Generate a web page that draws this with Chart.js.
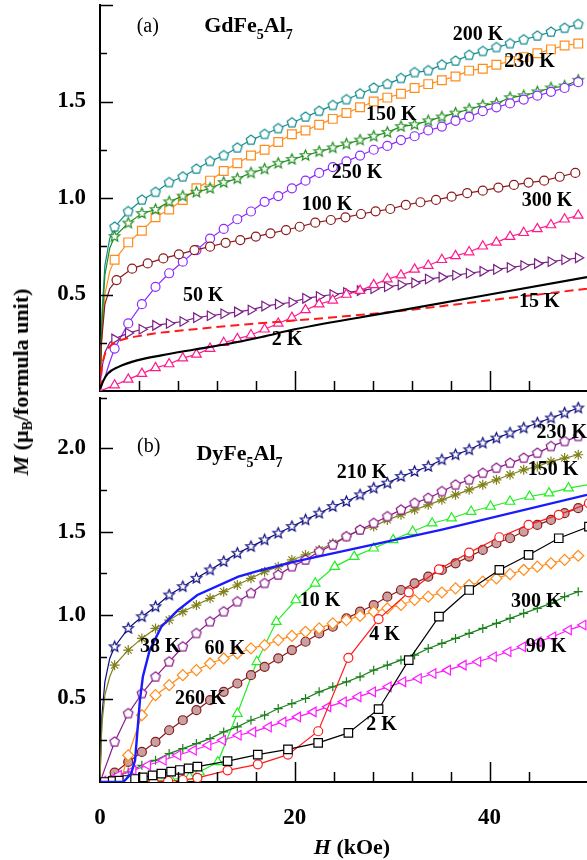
<!DOCTYPE html>
<html>
<head>
<meta charset="utf-8">
<script src="https://cdn.jsdelivr.net/npm/chart.js@4/dist/chart.umd.min.js"></script>
<style>
  body { margin: 0; background: #fff; width: 587px; height: 860px; position: relative; overflow: hidden;
         font-family: 'Liberation Serif', 'Times New Roman', serif; }
  #top { position: absolute; left: 0; top: 0; }
  #bot { position: absolute; left: 0; top: 390px; }
  .title { position: absolute; font-weight: bold; font-size: 22px; white-space: nowrap; color: #000; }
  #ytitle { left: 22px; top: 382px; transform: translate(-50%, -50%) rotate(-90deg); }
  #xtitle { left: 352px; top: 847px; transform: translate(-50%, -50%); }
  sub { font-size: 14px; vertical-align: -4px; }
</style>
</head>
<body>
<canvas id="top" width="587" height="392"></canvas>
<canvas id="bot" width="587" height="470"></canvas>
<div class="title" id="ytitle"><i>M</i> (&mu;<sub>B</sub>/formula unit)</div>
<div class="title" id="xtitle"><i>H</i> (kOe)</div>
<script>
'use strict';
/* global Chart */

// field grid (kOe) where most curves carry a marker, plus the unmarked low-field points
const hGrid = [1.5, 2.9, 4.3, 5.7, 7.1, 8.5, 9.9, 11.3, 12.7, 14.1, 15.5, 16.9, 18.3, 19.7, 21.1,
  22.5, 23.9, 25.3, 26.7, 28.1, 29.5, 30.9, 32.3, 33.7, 35.1, 36.5, 37.9, 39.3, 40.7, 42.1,
  43.5, 44.9, 46.3, 47.7, 49.1];
const hLead = [0, 0.2, 0.5, 1.0];

// ---- (a) GdFe5Al7 ----
const gd200Lead = [0.03, 0.40, 0.65, 0.79];
const gd200 = [0.85, 0.93, 0.99, 1.03, 1.08, 1.11, 1.15, 1.19, 1.22, 1.26, 1.30, 1.33, 1.36, 1.39,
  1.42, 1.45, 1.48, 1.51, 1.54, 1.57, 1.59, 1.62, 1.65, 1.66, 1.69, 1.71, 1.74, 1.76, 1.78, 1.80,
  1.82, 1.84, 1.86, 1.88, 1.90];
const gd230Lead = [0.03, 0.30, 0.50, 0.62];
const gd230 = [0.68, 0.77, 0.83, 0.90, 0.94, 0.99, 1.05, 1.09, 1.14, 1.18, 1.22, 1.25, 1.29, 1.33,
  1.35, 1.38, 1.41, 1.44, 1.47, 1.50, 1.52, 1.54, 1.57, 1.59, 1.61, 1.63, 1.66, 1.67, 1.69, 1.71,
  1.73, 1.75, 1.77, 1.79, 1.80];
const gd150Lead = [0.03, 0.35, 0.60, 0.74];
const gd150 = [0.80, 0.87, 0.92, 0.94, 0.98, 1.01, 1.03, 1.05, 1.08, 1.10, 1.13, 1.15, 1.18, 1.20,
  1.22, 1.24, 1.26, 1.28, 1.30, 1.32, 1.34, 1.37, 1.38, 1.40, 1.42, 1.44, 1.46, 1.48, 1.49, 1.52,
  1.53, 1.55, 1.57, 1.58, 1.61];
const gd250Lead = [0.0, 0.03, 0.07, 0.15];
const gd250 = [0.22, 0.35, 0.45, 0.54, 0.61, 0.67, 0.73, 0.79, 0.84, 0.89, 0.93, 0.98, 1.01, 1.05,
  1.09, 1.13, 1.16, 1.19, 1.22, 1.25, 1.27, 1.30, 1.32, 1.35, 1.37, 1.40, 1.42, 1.45, 1.47, 1.49,
  1.51, 1.53, 1.55, 1.57, 1.60];
const gd50Lead = [0.03, 0.12, 0.20, 0.25];
const gd50 = [0.27, 0.30, 0.32, 0.34, 0.35, 0.36, 0.38, 0.39, 0.40, 0.41, 0.42, 0.44, 0.45, 0.46,
  0.48, 0.49, 0.50, 0.51, 0.52, 0.53, 0.54, 0.55, 0.56, 0.58, 0.59, 0.60, 0.61, 0.62, 0.63, 0.64,
  0.65, 0.66, 0.67, 0.68, 0.69];
const gd300Lead = [0.0, 0.005, 0.01, 0.02];
const gd300 = [0.03, 0.06, 0.09, 0.12, 0.14, 0.17, 0.19, 0.22, 0.25, 0.27, 0.29, 0.32, 0.35, 0.38,
  0.42, 0.45, 0.47, 0.50, 0.52, 0.55, 0.58, 0.60, 0.63, 0.65, 0.68, 0.70, 0.72, 0.75, 0.77, 0.80,
  0.82, 0.84, 0.86, 0.89, 0.91];
const gd100H = [0, 0.15, 0.5, 1.0, 1.7, 3.3, 4.9, 6.5, 8.1, 9.7, 11.3, 12.9, 14.4, 16.0, 17.5, 19.1,
  20.5, 22.1, 23.7, 25.2, 26.8, 28.3, 29.8, 31.4, 32.9, 34.5, 36.1, 37.7, 39.3, 40.9, 42.5, 44.0,
  45.6, 47.2, 48.8];
const gd100 = [0.02, 0.25, 0.45, 0.53, 0.575, 0.634, 0.661, 0.687, 0.708, 0.73, 0.748, 0.768, 0.782,
  0.80, 0.817, 0.834, 0.851, 0.872, 0.886, 0.90, 0.917, 0.931, 0.943, 0.964, 0.978, 0.99, 1.007,
  1.025, 1.038, 1.054, 1.068, 1.08, 1.09, 1.11, 1.13];
const gd2H = [0, 0.3, 0.8, 1.9, 3.9, 6.3, 9.7, 13.2, 16.6, 20, 30, 40, 50];
const gd2 = [0.01, 0.05, 0.09, 0.125, 0.16, 0.185, 0.215, 0.245, 0.28, 0.32, 0.41, 0.50, 0.59];
const gd15H = [0, 0.2, 0.5, 1, 1.5, 4.6, 9.7, 14.9, 20, 30, 40, 50];
const gd15 = [0.01, 0.12, 0.19, 0.23, 0.25, 0.29, 0.32, 0.345, 0.365, 0.41, 0.47, 0.53];

// ---- (b) DyFe5Al7 ----
const dy210Lead = [0.02, 0.40, 0.60, 0.74];
const dy210 = [0.81, 0.92, 0.99, 1.05, 1.12, 1.17, 1.22, 1.27, 1.32, 1.37, 1.41, 1.45, 1.49, 1.53,
  1.57, 1.61, 1.65, 1.68, 1.72, 1.76, 1.79, 1.83, 1.86, 1.89, 1.93, 1.96, 1.99, 2.03, 2.06, 2.09,
  2.12, 2.15, 2.18, 2.21, 2.24];
const dy150Lead = [0.02, 0.35, 0.52, 0.63];
const dy150 = [0.70, 0.79, 0.86, 0.92, 0.97, 1.02, 1.06, 1.10, 1.14, 1.18, 1.22, 1.26, 1.29, 1.33,
  1.36, 1.39, 1.43, 1.47, 1.51, 1.53, 1.57, 1.60, 1.63, 1.66, 1.69, 1.72, 1.75, 1.78, 1.81, 1.84,
  1.87, 1.89, 1.92, 1.94, 1.96];
const dy230Lead = [0.0, 0.03, 0.08, 0.16];
const dy230 = [0.24, 0.41, 0.53, 0.63, 0.72, 0.81, 0.89, 0.96, 1.02, 1.08, 1.13, 1.19, 1.24, 1.29,
  1.33, 1.38, 1.42, 1.47, 1.51, 1.55, 1.59, 1.63, 1.67, 1.70, 1.74, 1.78, 1.81, 1.85, 1.88, 1.91,
  1.94, 1.97, 2.01, 2.04, 2.07];
const dy260Lead = [0.0, 0.005, 0.015, 0.035];
const dy260 = [0.056, 0.12, 0.18, 0.24, 0.31, 0.37, 0.43, 0.49, 0.54, 0.59, 0.64, 0.69, 0.74, 0.79,
  0.84, 0.89, 0.93, 0.98, 1.02, 1.06, 1.11, 1.15, 1.19, 1.23, 1.27, 1.31, 1.35, 1.39, 1.43, 1.46,
  1.50, 1.54, 1.57, 1.61, 1.64];
const dy300Lead = [0.0, 0.005, 0.012, 0.02];
const dy300 = [0.03, 0.06, 0.10, 0.13, 0.17, 0.20, 0.23, 0.26, 0.30, 0.33, 0.37, 0.40, 0.44, 0.47,
  0.50, 0.54, 0.57, 0.60, 0.63, 0.67, 0.70, 0.73, 0.76, 0.80, 0.83, 0.86, 0.89, 0.92, 0.95, 0.98,
  1.01, 1.04, 1.07, 1.11, 1.14];
const dy60H = [0, 2.2].concat(hGrid.slice(1));
const dy60 = [0, 0.02, 0.16, 0.40, 0.52, 0.58, 0.64, 0.67, 0.71, 0.74, 0.77, 0.80, 0.82, 0.85, 0.875,
  0.90, 0.92, 0.95, 0.97, 0.995, 1.02, 1.04, 1.06, 1.09, 1.11, 1.135, 1.16, 1.18, 1.20, 1.22, 1.245,
  1.27, 1.29, 1.31, 1.33, 1.355];
const dy90H = [0, 0.3, 1.9, 3.4, 4.9, 6.5, 8.0, 9.6, 11.1, 12.6, 14.2, 15.7, 17.3, 18.8, 20.3, 21.9,
  23.4, 25.0, 26.5, 28.0, 29.6, 31.1, 32.7, 34.2, 35.7, 37.3, 38.8, 40.4, 41.9, 43.4, 45.0, 46.5,
  48.1, 49.6];
const dy90 = [0, 0.005, 0.04, 0.07, 0.10, 0.13, 0.16, 0.19, 0.22, 0.25, 0.28, 0.30, 0.33, 0.36, 0.39,
  0.42, 0.45, 0.48, 0.51, 0.54, 0.57, 0.60, 0.62, 0.65, 0.67, 0.70, 0.72, 0.75, 0.78, 0.81, 0.84,
  0.87, 0.91, 0.94];
const dy2H = [0, 0.5, 1.3, 2.0, 2.8, 3.6, 4.4, 5.4, 6.3, 7.3, 8.2, 9.1, 10.0, 13.1, 16.2, 19.3, 22.4,
  25.5, 28.6, 31.7, 34.8, 37.9, 41.0, 44.0, 47.1, 50.2];
const dy2 = [0, 0, 0.005, 0.008, 0.012, 0.018, 0.028, 0.04, 0.05, 0.062, 0.072, 0.082, 0.092, 0.125,
  0.164, 0.195, 0.234, 0.294, 0.436, 0.73, 0.99, 1.15, 1.27, 1.36, 1.46, 1.53];
const dy4H = [0, 1.0, 2.5, 4.0, 5.5, 7.0, 8.5, 10.0, 13.1, 16.2, 19.3, 22.4, 25.5, 28.6, 31.7, 34.8,
  37.9, 41.0, 44.0, 47.1, 50.2];
const dy4 = [0, 0, 0, 0, 0.003, 0.006, 0.012, 0.025, 0.07, 0.106, 0.164, 0.304, 0.744, 0.976, 1.136,
  1.274, 1.374, 1.466, 1.54, 1.60, 1.67];
const dy10H = [0, 3.3, 5.3, 7.3, 9.2, 10.2, 12.1, 14.1, 16.1, 18.1, 20.1, 22.1, 24.1, 26.1, 28.1,
  30.1, 32.1, 34.1, 36.1, 38.1, 40.1, 42.1, 44.1, 46.1, 48.1, 50];
const dy10 = [0, 0, 0.005, 0.015, 0.03, 0.06, 0.12, 0.41, 0.72, 0.96, 1.09, 1.19, 1.29, 1.35, 1.40,
  1.45, 1.50, 1.55, 1.58, 1.62, 1.65, 1.68, 1.71, 1.73, 1.76, 1.78];
const dy38H = [0, 2.4, 3.2, 3.6, 4.1, 4.4, 5.1, 6.3, 8, 10, 14.2, 16.6, 20, 35, 50];
const dy38 = [0, 0, 0.05, 0.13, 0.49, 0.63, 0.79, 0.93, 1.03, 1.12, 1.23, 1.27, 1.32, 1.51, 1.72];

// curve labels: text, H, M
const notesTop = [['200 K', 38.8, 1.845], ['230 K', 44.1, 1.705], ['150 K', 29.9, 1.43],
  ['250 K', 26.4, 1.13], ['100 K', 23.3, 0.964], ['300 K', 45.9, 0.984], ['50 K', 10.6, 0.492],
  ['15 K', 45.1, 0.461], ['2 K', 19.2, 0.264]];
const notesBot = [['210 K', 26.9, 1.85], ['230 K', 47.4, 2.09], ['150 K', 46.5, 1.87],
  ['10 K', 22.6, 1.084], ['4 K', 29.2, 0.88], ['300 K', 44.8, 1.078], ['90 K', 45.8, 0.81],
  ['2 K', 28.9, 0.34], ['38 K', 6.2, 0.81], ['60 K', 12.8, 0.80], ['260 K', 10.3, 0.50]];

const SERIF = "'Liberation Serif', 'Times New Roman', serif";

function pts(hs, ms, lead, tail) {
  const n = hs.length - (tail || 0);
  return hs.map((x, i) => ({ x, y: ms[i], mk: i >= lead && i < n }));
}

// open pentagon / five-point star drawn once as a sprite
function sprite(kind, color, r) {
  const c = document.createElement('canvas');
  const s = Math.ceil(r * 2 + 4);
  c.width = c.height = s;
  const g = c.getContext('2d');
  const n = kind === 'star' ? 10 : 5;
  g.beginPath();
  for (let i = 0; i < n; i++) {
    const rr = kind === 'star' && i % 2 ? r * 0.45 : r;
    const a = -Math.PI / 2 + i * 2 * Math.PI / n;
    g.lineTo(s / 2 + rr * Math.cos(a), s / 2 + rr * Math.sin(a));
  }
  g.closePath();
  g.fillStyle = '#fff';
  g.fill();
  g.strokeStyle = color;
  g.lineWidth = 1.2;
  g.stroke();
  return c;
}

function ds(data, color, style, r, extra) {
  return Object.assign({
    data,
    borderColor: color,
    borderWidth: 1.2,
    pointStyle: style,
    pointBorderColor: color,
    pointBackgroundColor: '#fff',
    pointBorderWidth: 1.2,
    pointRadius: c => (c.raw && c.raw.mk ? r : 0),
    pointHoverRadius: 0,
  }, extra || {});
}

function plain(data, color, width, extra) {
  return Object.assign({
    data, borderColor: color, borderWidth: width, pointRadius: 0, pointHoverRadius: 0,
    cubicInterpolationMode: 'monotone',
  }, extra || {});
}

// no label overhang padding: the plot area is fixed by the page layout
function noPad(s) {
  s.paddingTop = 0;
  s.paddingBottom = 0;
  s.paddingLeft = 0;
  s.paddingRight = 0;
}

// inward ticks, curve labels and the compound name
const decor = {
  id: 'decor',
  afterDraw(chart, args, o) {
    const { ctx, chartArea: a, scales: { x, y } } = chart;
    ctx.save();
    ctx.strokeStyle = '#000';
    ctx.lineWidth = 1.5;
    ctx.beginPath();
    x.ticks.forEach(t => {
      if (t.value <= 0 || t.value >= 50) return;
      const px = Math.round(x.getPixelForValue(t.value)) + 0.5;
      const len = t.value % 20 === 0 ? 20 : 10;
      ctx.moveTo(px, a.bottom);
      ctx.lineTo(px, a.bottom - len);
    });
    y.ticks.forEach(t => {
      if (t.value <= 0) return;
      const py = Math.round(y.getPixelForValue(t.value)) + 0.5;
      const major = Math.abs(t.value * 2 - Math.round(t.value * 2)) < 1e-6;
      ctx.moveTo(a.left, py);
      ctx.lineTo(a.left + (major ? 13 : 7), py);
    });
    ctx.stroke();

    ctx.fillStyle = '#000';
    ctx.textAlign = 'center';
    ctx.textBaseline = 'middle';
    ctx.font = 'bold 20px ' + SERIF;
    o.notes.forEach(([t, h, m]) => ctx.fillText(t, x.getPixelForValue(h), y.getPixelForValue(m)));

    ctx.font = '20px ' + SERIF;
    ctx.fillText(o.tag[0], x.getPixelForValue(o.tag[1]), y.getPixelForValue(o.tag[2]));

    // formula with subscripts
    ctx.textAlign = 'left';
    ctx.textBaseline = 'alphabetic';
    let px = x.getPixelForValue(o.formula[1]);
    const py = y.getPixelForValue(o.formula[2]);
    o.formula[0].forEach(([s, sub]) => {
      ctx.font = sub ? 'bold 14px ' + SERIF : 'bold 22px ' + SERIF;
      ctx.fillText(s, px, py + (sub ? 7 : 0));
      px += ctx.measureText(s).width;
    });
    ctx.restore();
  },
};

function makeChart(id, datasets, cfg) {
  return new Chart(document.getElementById(id), {
    type: 'line',
    data: { datasets },
    plugins: [decor],
    options: {
      responsive: false,
      animation: false,
      devicePixelRatio: 1,
      layout: { autoPadding: false, padding: { top: cfg.padTop, right: 0, left: 0, bottom: 0 } },
      plugins: {
        legend: { display: false },
        tooltip: { enabled: false },
        decor: { notes: cfg.notes, tag: cfg.tag, formula: cfg.formula },
      },
      scales: {
        x: {
          type: 'linear', min: 0, max: 50,
          grid: { display: false, drawTicks: false },
          border: { display: true, color: '#000', width: 2 },
          afterFit: s => { s.height = cfg.xHeight; noPad(s); },
          ticks: {
            display: cfg.showX, stepSize: 4, autoSkip: false, maxRotation: 0, padding: 22,
            color: '#000', font: { family: SERIF, size: 23, weight: 'bold' },
            callback: v => (v % 20 === 0 ? String(v) : ''),
          },
        },
        y: {
          type: 'linear', min: 0, max: cfg.yMax,
          grid: { display: false, drawTicks: false },
          border: { display: true, color: '#000', width: 2 },
          afterFit: s => { s.width = 100; noPad(s); },
          ticks: {
            stepSize: 0.25, autoSkip: false, padding: 14,
            color: '#000', font: { family: SERIF, size: 23, weight: 'bold' },
            callback: v => {
              const major = Math.abs(v * 2 - Math.round(v * 2)) < 1e-6;
              return major && v > 0 && v < cfg.yMax - 0.01 ? v.toFixed(1) : '';
            },
          },
        },
      },
    },
  });
}

const gTop = hLead.concat(hGrid);

makeChart('top', [
  plain(pts(gd2H, gd2, 99), '#000', 2.2),
  plain(pts(gd15H, gd15, 99), '#ff1a1a', 2, { borderDash: [9, 5] }),
  ds(pts(gTop, gd300Lead.concat(gd300), 4), '#ff1a8c', 'triangle', 5.5),
  ds(pts(gTop, gd50Lead.concat(gd50), 4), '#7b1f86', 'triangle', 5.5, { pointRotation: 90 }),
  ds(pts(gd100H, gd100, 4), '#8b1a1a', 'circle', 4.5),
  ds(pts(gTop, gd250Lead.concat(gd250), 4), '#8c2bff', 'circle', 4.5),
  ds(pts(gTop, gd150Lead.concat(gd150), 4), '#1e8c1e', sprite('star', '#1e8c1e', 5.5), 5),
  ds(pts(gTop, gd230Lead.concat(gd230), 4), '#ff8c1a', 'rect', 6.2),
  ds(pts(gTop, gd200Lead.concat(gd200), 4), '#138d90', sprite('pent', '#138d90', 5), 5),
], {
  padTop: 5, xHeight: 1, yMax: 2.0, showX: false,
  notes: notesTop, tag: ['(a)', 4.9, 1.886],
  formula: [[['GdFe', 0], ['5', 1], ['Al', 0], ['7', 1]], 10.7, 1.86],
});

makeChart('bot', [
  plain(pts(dy38H, dy38, 99), '#1a1aff', 2.4, { cubicInterpolationMode: 'default', tension: 0 }),
  ds(pts(dy2H, dy2, 1), '#000', 'rect', 6),
  ds(pts(dy4H, dy4, 1), '#ff1a1a', 'circle', 4.5),
  ds(pts(dy90H, dy90, 1), '#ff1aff', 'triangle', 5.5, { pointRotation: -90 }),
  ds(pts(gTop, dy300Lead.concat(dy300), 4), '#1a801a', 'cross', 4.5),
  ds(pts(dy60H, dy60, 2), '#ff8c1a', 'rectRot', 5.5),
  ds(pts(gTop, dy260Lead.concat(dy260), 4), '#8b1a1a', 'circle', 4.5, { pointBackgroundColor: '#c8a2a2' }),
  ds(pts(dy10H, dy10, 1, 1), '#22ee22', 'triangle', 5.5),
  ds(pts(gTop, dy230Lead.concat(dy230), 4), '#8b1a8b', sprite('pent', '#8b1a8b', 5), 5),
  ds(pts(gTop, dy150Lead.concat(dy150), 4), '#80801a', 'star', 5),
  ds(pts(gTop, dy210Lead.concat(dy210), 4), '#0a0a80', sprite('star', '#0a0a80', 5.5), 5),
], {
  padTop: 8, xHeight: 78, yMax: 2.3, showX: true,
  notes: notesBot, tag: ['(b)', 5.0, 2.01],
  formula: [[['DyFe', 0], ['5', 1], ['Al', 0], ['7', 1]], 9.9, 1.93],
});
</script>
</body>
</html>
